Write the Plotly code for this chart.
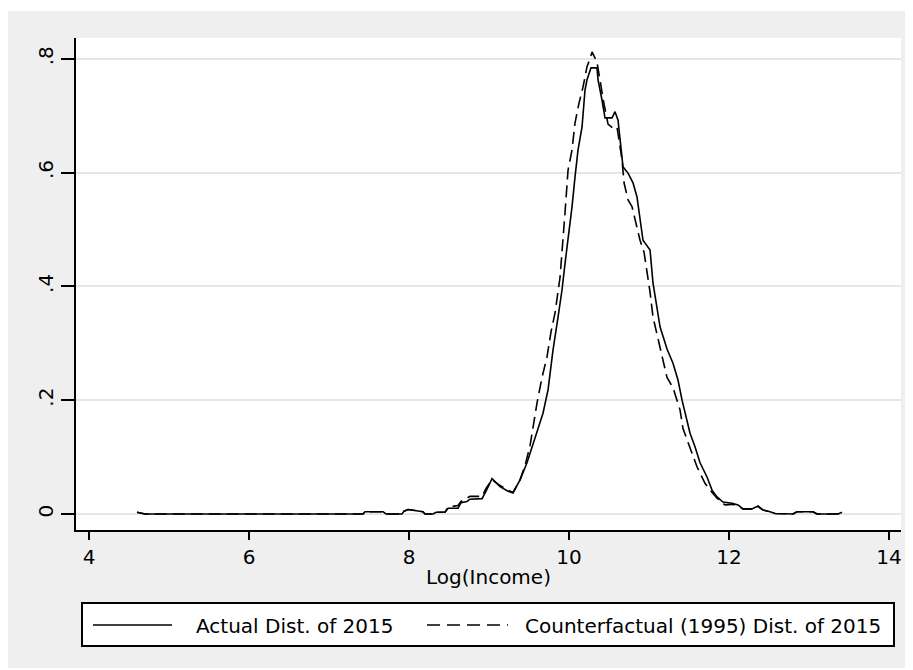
import plotly.graph_objects as go

# ---------------- data ----------------
actual_x = [4.60, 4.70, 7.425, 7.45, 7.675, 7.713, 7.913, 7.938, 7.988, 8.175, 8.20, 8.30, 8.338, 8.45,
            8.488, 8.613, 8.65, 8.725, 8.763, 8.913, 8.963, 9.038, 9.138, 9.238, 9.30, 9.388, 9.475,
            9.575, 9.675, 9.738, 9.80, 9.863, 9.913, 9.95, 9.988, 10.038, 10.075, 10.113, 10.163, 10.20,
            10.225, 10.275, 10.35, 10.363, 10.413, 10.45, 10.538, 10.575, 10.613, 10.638, 10.675, 10.738,
            10.80, 10.85, 10.888, 10.925, 11.013, 11.05, 11.138, 11.225, 11.30, 11.363, 11.413, 11.45,
            11.513, 11.575, 11.638, 11.725, 11.788, 11.85, 11.925, 12.038, 12.113, 12.175, 12.288, 12.363,
            12.425, 12.513, 12.575, 12.80, 12.85, 13.05, 13.10, 13.363, 13.413]
actual_y = [0.003, 0.0, 0.0, 0.004, 0.004, 0.0, 0.0, 0.005, 0.008, 0.004, 0.0, 0.0, 0.003, 0.003,
            0.010, 0.010, 0.020, 0.022, 0.026, 0.027, 0.040, 0.062, 0.048, 0.040, 0.037, 0.060, 0.090,
            0.135, 0.177, 0.218, 0.288, 0.346, 0.394, 0.440, 0.481, 0.540, 0.592, 0.640, 0.680, 0.745,
            0.763, 0.784, 0.784, 0.763, 0.727, 0.696, 0.696, 0.707, 0.692, 0.657, 0.610, 0.599,
            0.582, 0.557, 0.522, 0.481, 0.464, 0.406, 0.329, 0.290, 0.265, 0.235, 0.200, 0.177,
            0.142, 0.118, 0.090, 0.065, 0.042, 0.030, 0.021, 0.019, 0.016, 0.009, 0.009, 0.014,
            0.007, 0.004, 0.001, 0.0, 0.004, 0.004, 0.0, 0.0, 0.003]

counter_x = [4.60, 4.70, 7.425, 7.45, 7.675, 7.713, 7.913, 7.938, 7.988, 8.175, 8.20, 8.30, 8.338, 8.45,
             8.488, 8.613, 8.65, 8.725, 8.763, 8.913, 8.963, 9.038, 9.138, 9.238, 9.30, 9.388, 9.45,
             9.513, 9.60, 9.663, 9.725, 9.775, 9.825, 9.888, 9.925, 9.95, 9.988, 10.038, 10.075, 10.125,
             10.175, 10.225, 10.263, 10.288, 10.35, 10.388, 10.438, 10.488, 10.55, 10.60, 10.638, 10.663,
             10.688, 10.738, 10.788, 10.85, 10.888, 10.938, 11.013, 11.05, 11.138, 11.225, 11.30, 11.388,
             11.425, 11.513, 11.60, 11.70, 11.763, 11.85, 11.95, 12.038, 12.113, 12.175, 12.288, 12.363,
             12.425, 12.513, 12.575, 12.80, 12.85, 13.05, 13.10, 13.363, 13.413]
counter_y = [0.003, 0.0, 0.0, 0.004, 0.004, 0.0, 0.0, 0.005, 0.008, 0.004, 0.0, 0.0, 0.003, 0.003,
             0.012, 0.015, 0.022, 0.028, 0.031, 0.031, 0.045, 0.060, 0.050, 0.042, 0.038, 0.060, 0.085,
             0.120, 0.195, 0.240, 0.276, 0.320, 0.353, 0.416, 0.494, 0.529, 0.604, 0.640, 0.687, 0.722,
             0.750, 0.786, 0.800, 0.812, 0.794, 0.760, 0.720, 0.685, 0.678, 0.680, 0.645, 0.622,
             0.582, 0.552, 0.540, 0.504, 0.481, 0.460, 0.390, 0.346, 0.290, 0.240, 0.222, 0.183,
             0.150, 0.118, 0.083, 0.054, 0.042, 0.028, 0.016, 0.017, 0.014, 0.009, 0.009, 0.013,
             0.007, 0.004, 0.001, 0.0, 0.004, 0.004, 0.0, 0.0, 0.003]

assert len(actual_x) == len(actual_y)
assert len(counter_x) == len(counter_y)

series_names = ["Actual Dist. of 2015", "Counterfactual (1995) Dist. of 2015"]
x_ticks = [4, 6, 8, 10, 12, 14]
y_ticks = [0, 0.2, 0.4, 0.6, 0.8]
y_tick_labels = ["0", ".2", ".4", ".6", ".8"]
x_title = "Log(Income)"

# ---------------- layout geometry ----------------
# The page body has an 8px default margin, so the figure is drawn 8px
# smaller and every window-pixel position is shifted by that offset.
OFF = 8
W, H = 913 - OFF, 670 - OFF
L, T = 76 - OFF, 38 - OFF
R = W - (901 - OFF)
B = H - (530 - OFF)
PW, PH = W - L - R, H - T - B
FONT = "DejaVu Sans"
GRAY = "#efefef"


def px(xp):
    """window x pixel -> paper coordinate"""
    return (xp - OFF - L) / PW


def py(yp):
    """window y pixel -> paper coordinate"""
    return (H - B - (yp - OFF)) / PH


DASH = "12px,6px"

fig = go.Figure()
fig.add_trace(go.Scatter(x=actual_x, y=actual_y, mode="lines", name=series_names[0],
                         line=dict(color="black", width=1.6), showlegend=False))
fig.add_trace(go.Scatter(x=counter_x, y=counter_y, mode="lines", name=series_names[1],
                         line=dict(color="black", width=1.6, dash=DASH), showlegend=False))

shapes = [
    # white margins outside the gray graph region
    dict(type="rect", xref="paper", yref="paper", x0=px(0), x1=px(913), y0=py(0), y1=py(11),
         fillcolor="white", line=dict(width=0), layer="below"),
    dict(type="rect", xref="paper", yref="paper", x0=px(0), x1=px(913), y0=py(668), y1=py(680),
         fillcolor="white", line=dict(width=0), layer="below"),
    # legend box
    dict(type="rect", xref="paper", yref="paper", x0=px(82), x1=px(894), y0=py(603), y1=py(646),
         fillcolor="white", line=dict(color="black", width=2)),
    dict(type="line", xref="paper", yref="paper", x0=px(93), x1=px(172), y0=py(625), y1=py(625),
         line=dict(color="black", width=1.6)),
    dict(type="line", xref="paper", yref="paper", x0=px(427), x1=px(508), y0=py(625), y1=py(625),
         line=dict(color="black", width=1.6, dash="13px,7px")),
]

annotations = [
    dict(xref="paper", yref="paper", x=px(194), y=py(625.5), xanchor="left", yanchor="middle",
         text=series_names[0], showarrow=False, font=dict(family=FONT, size=20, color="black")),
    dict(xref="paper", yref="paper", x=px(523), y=py(625.5), xanchor="left", yanchor="middle",
         text=series_names[1], showarrow=False, font=dict(family=FONT, size=20, color="black")),
]

fig.update_layout(
    width=W, height=H, autosize=False,
    margin=dict(l=L, r=R, t=T, b=B, pad=0),
    paper_bgcolor=GRAY, plot_bgcolor="white",
    showlegend=False,
    shapes=shapes, annotations=annotations,
    font=dict(family=FONT, size=20, color="black"),
    xaxis=dict(
        range=[4 + (76 - 89) / 80, 4 + (901 - 89) / 80],
        tickmode="array", tickvals=x_ticks, ticktext=[str(v) for v in x_ticks],
        showline=True, linecolor="black", linewidth=2,
        ticks="outside", ticklen=8, tickwidth=2, tickcolor="black",
        showgrid=False, zeroline=False,
        tickfont=dict(family=FONT, size=20, color="black"),
        title=dict(text=x_title, font=dict(family=FONT, size=20, color="black"), standoff=2),
    ),
    yaxis=dict(
        range=[-(530 - 514) / 569.1, (514 - 38) / 569.1],
        tickmode="array", tickvals=y_ticks, ticktext=y_tick_labels, tickangle=-90,
        showline=True, linecolor="black", linewidth=2,
        ticks="outside", ticklen=13, tickwidth=2, tickcolor="black",
        showgrid=True, gridcolor="#e6e6e6", gridwidth=1.5, zeroline=False,
        tickfont=dict(family=FONT, size=20, color="black"),
    ),
)

fig.write_html("out.html")
